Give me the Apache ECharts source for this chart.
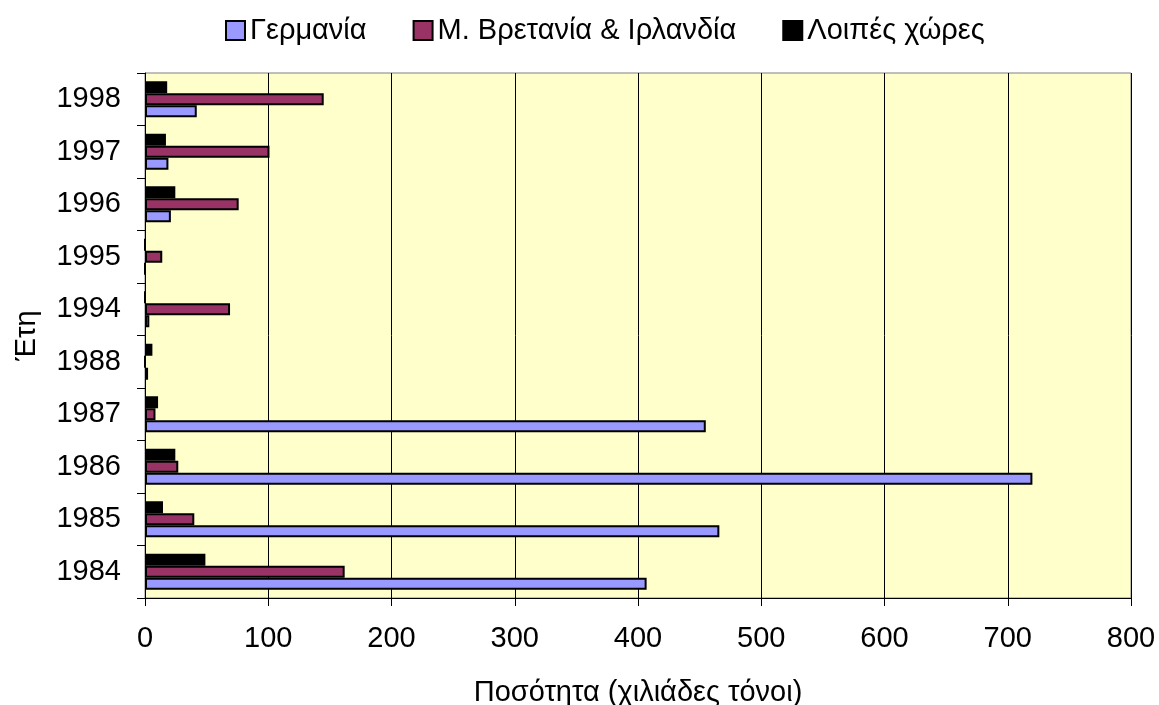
<!DOCTYPE html>
<html>
<head>
<meta charset="utf-8">
<script src="https://cdn.jsdelivr.net/npm/echarts@6/dist/echarts.min.js"></script>
<style>
  html, body { margin: 0; padding: 0; background: #fff; }
  #chart { width: 1159px; height: 705px; }
</style>
</head>
<body>
<div id="chart"></div>
<script>
// years bottom -> top
const years = ['1984', '1985', '1986', '1987', '1988', '1994', '1995', '1996', '1997', '1998']
const germany = [407, 466, 720, 455, 2.5, 3.5, 0, 21, 19, 42]
const britain = [162, 40, 27, 8.5, 0, 69, 14, 76, 101, 145]
const others = [49, 14.6, 24.6, 10.6, 6, 0, 0, 24.6, 17, 18]
const xTicks = [0, 100, 200, 300, 400, 500, 600, 700, 800]

const font = 'Liberation Sans, Arial, sans-serif'
const myChart = echarts.init(document.getElementById('chart'))

function barSeries(name, data, color) {
  return {
    name: name,
    type: 'bar',
    data: data,
    barWidth: 12,
    barGap: '0%',
    itemStyle: {
      color: color,
      borderColor: '#000',
      borderWidth: 2
    }
  }
}

myChart.setOption({
  animation: false,
  textStyle: { fontFamily: font },
  legend: {
    top: 11,
    left: 220,
    icon: 'rect',
    itemWidth: 19,
    itemHeight: 19,
    itemGap: 46,
    textStyle: { fontSize: 29, color: '#000', fontFamily: font },
    data: ['Γερμανία', 'Μ. Βρετανία & Ιρλανδία', 'Λοιπές χώρες']
  },
  grid: {
    left: 145,
    right: 28,
    top: 73,
    bottom: 107,
    containLabel: false,
    outerBoundsMode: 'none',
    show: true,
    backgroundColor: '#FFFFCC',
    borderColor: '#808080',
    borderWidth: 1
  },
  xAxis: {
    type: 'value',
    min: xTicks[0],
    max: xTicks[xTicks.length - 1],
    interval: 100,
    name: 'Ποσότητα (χιλιάδες τόνοι)',
    nameLocation: 'middle',
    nameGap: 80,
    nameTextStyle: { fontSize: 29, color: '#000' },
    axisLine: { show: true, lineStyle: { color: '#000', width: 1 } },
    axisTick: { show: true, length: 8, lineStyle: { color: '#000' } },
    axisLabel: { fontSize: 29, color: '#000', margin: 26 },
    splitLine: { show: true, lineStyle: { color: '#000', width: 1 } }
  },
  yAxis: {
    type: 'category',
    data: years,
    name: 'Έτη',
    nameLocation: 'middle',
    nameRotate: 90,
    nameGap: 104,
    nameTextStyle: { fontSize: 29, color: '#000' },
    axisLine: { show: true, lineStyle: { color: '#000', width: 1 } },
    axisTick: { show: true, length: 8, lineStyle: { color: '#000' } },
    axisLabel: { fontSize: 29, color: '#000', margin: 24 },
    splitLine: { show: false }
  },
  // first series sits on top of each group in ECharts
  series: [
    barSeries('Λοιπές χώρες', others, '#000000'),
    barSeries('Μ. Βρετανία & Ιρλανδία', britain, '#993366'),
    barSeries('Γερμανία', germany, '#9999FF')
  ]
})
</script>
</body>
</html>
